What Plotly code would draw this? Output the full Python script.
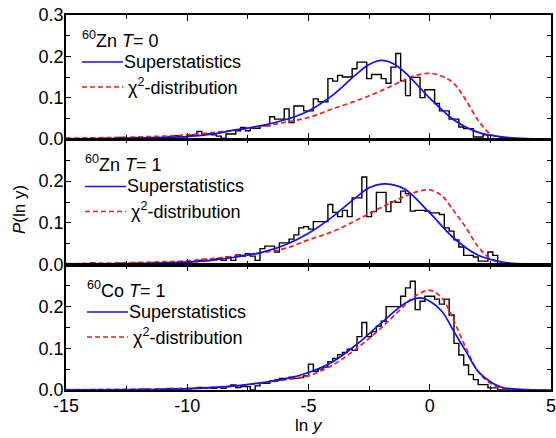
import plotly.graph_objects as go

W, H = 556, 438

# ---------------- data ----------------
BIN_START = -15.0
BIN_WIDTH = 0.2

# histogram heights, one row = 5 bins = one unit of ln y (row label = left edge)
HIST_ZN_T0 = [
    0.001, 0.000, 0.001, 0.000, 0.001,   # -15
    0.001, 0.000, 0.002, 0.001, 0.001,   # -14
    0.002, 0.004, 0.002, 0.002, 0.003,   # -13
    0.002, 0.003, 0.004, 0.003, 0.004,   # -12
    0.004, 0.005, 0.008, 0.006, 0.005,   # -11
    0.008, 0.010, 0.018, 0.012, 0.012,   # -10
    0.010, 0.007, 0.002, 0.012, 0.012,   # -9
    0.020, 0.028, 0.020, 0.026, 0.026,   # -8
    0.032, 0.032, 0.054, 0.048, 0.048,   # -7
    0.073, 0.040, 0.080, 0.080, 0.068,   # -6
    0.068, 0.097, 0.090, 0.090, 0.146,   # -5
    0.140, 0.154, 0.150, 0.150, 0.170,   # -4
    0.186, 0.186, 0.146, 0.156, 0.156,   # -3
    0.146, 0.135, 0.174, 0.207, 0.141,   # -2
    0.105, 0.149, 0.149, 0.100, 0.119,   # -1
    0.119, 0.086, 0.068, 0.068, 0.048,   # 0
    0.048, 0.029, 0.025, 0.025, 0.005,   # 1
    0.005, 0.010, 0.000, 0.000, 0.000,   # 2
    0.000, 0.000,                        # 3
]

HIST_ZN_T1 = [
    0.002, 0.001, 0.002, 0.001, 0.002,   # -15
    0.004, 0.002, 0.001, 0.002, 0.002,   # -14
    0.002, 0.003, 0.002, 0.003, 0.003,   # -13
    0.003, 0.002, 0.003, 0.004, 0.003,   # -12
    0.004, 0.005, 0.004, 0.006, 0.005,   # -11
    0.006, 0.007, 0.010, 0.012, 0.010,   # -10
    0.012, 0.014, 0.010, 0.018, 0.010,   # -9
    0.023, 0.020, 0.026, 0.020, 0.010,   # -8
    0.038, 0.044, 0.044, 0.030, 0.052,   # -7
    0.052, 0.061, 0.071, 0.088, 0.091,   # -6
    0.085, 0.103, 0.103, 0.103, 0.144,   # -5
    0.125, 0.115, 0.130, 0.115, 0.160,   # -4
    0.160, 0.210, 0.115, 0.127, 0.173,   # -3
    0.173, 0.127, 0.151, 0.149, 0.176,   # -2
    0.170, 0.128, 0.130, 0.130, 0.128,   # -1
    0.124, 0.124, 0.120, 0.088, 0.080,   # 0
    0.059, 0.042, 0.022, 0.022, 0.018,   # 1
    0.008, 0.008, 0.030, 0.022, 0.000,   # 2
    0.000, 0.000,                        # 3
]

HIST_CO_T1 = [
    0.000, 0.000, 0.000, 0.000, 0.001,   # -15
    0.000, 0.001, 0.000, 0.000, 0.001,   # -14
    0.001, 0.000, 0.001, 0.001, 0.001,   # -13
    0.001, 0.002, 0.001, 0.001, 0.002,   # -12
    0.002, 0.004, 0.003, 0.002, 0.003,   # -11
    0.003, 0.004, 0.006, 0.004, 0.005,   # -10
    0.004, 0.006, 0.004, 0.008, 0.012,   # -9
    0.006, 0.008, 0.008, 0.000, 0.010,   # -8
    0.016, 0.016, 0.022, 0.024, 0.028,   # -7
    0.028, 0.031, 0.028, 0.030, 0.034,   # -6
    0.062, 0.045, 0.050, 0.055, 0.068,   # -5
    0.076, 0.085, 0.090, 0.098, 0.095,   # -4
    0.128, 0.162, 0.128, 0.140, 0.153,   # -3
    0.165, 0.200, 0.200, 0.200, 0.225,   # -2
    0.245, 0.261, 0.193, 0.213, 0.225,   # -1
    0.225, 0.218, 0.206, 0.218, 0.180,   # 0
    0.112, 0.084, 0.060, 0.037, 0.025,   # 1
    0.013, 0.013, 0.005, 0.005, 0.000,   # 2
    0.000, 0.000,                        # 3
]

# superstatistics (blue) and chi^2 (red) curves
SUPER_X_ZN_T0 = [-15, -12, -10, -9, -8, -7, -6, -5, -4, -3, -2.5, -2, -1.5, -1, 0, 1, 2, 3, 4, 5]
SUPER_Y_ZN_T0 = [0.0005, 0.002, 0.006, 0.012, 0.022, 0.032, 0.046, 0.068, 0.106, 0.158, 0.180, 0.190, 0.182, 0.160, 0.099, 0.046, 0.016, 0.005, 0.001, 0.0]
CHI_X_ZN_T0 = [-15, -12, -10, -8, -7, -6, -5, -4, -3, -2, -1, -0.5, 0, 0.5, 1, 1.5, 2, 2.5, 3, 4, 5]
CHI_Y_ZN_T0 = [0.002, 0.005, 0.010, 0.022, 0.030, 0.040, 0.052, 0.073, 0.093, 0.117, 0.144, 0.155, 0.159, 0.152, 0.134, 0.093, 0.045, 0.012, 0.003, 0.0, 0.0]

SUPER_X_ZN_T1 = [-15, -12, -10, -9, -8, -7, -6, -5, -4, -3, -2.5, -2, -1.5, -1, 0, 1, 2, 3, 4, 5]
SUPER_Y_ZN_T1 = [0.0005, 0.002, 0.006, 0.010, 0.018, 0.028, 0.046, 0.075, 0.115, 0.163, 0.184, 0.193, 0.191, 0.180, 0.124, 0.063, 0.022, 0.006, 0.001, 0.0]
CHI_X_ZN_T1 = [-15, -12, -10, -8, -7, -6, -5, -4, -3, -2, -1, -0.5, 0, 0.5, 1, 1.5, 2, 2.5, 3, 4, 5]
CHI_Y_ZN_T1 = [0.002, 0.005, 0.009, 0.020, 0.028, 0.038, 0.059, 0.079, 0.107, 0.137, 0.164, 0.175, 0.179, 0.165, 0.128, 0.088, 0.042, 0.014, 0.003, 0.0, 0.0]

SUPER_X_CO_T1 = [-15, -12, -10, -9, -8, -7, -6, -5, -4, -3, -2, -1, -0.4, 0, 0.5, 1, 1.5, 2, 2.5, 3, 4, 5]
SUPER_Y_CO_T1 = [0.0, 0.001, 0.003, 0.006, 0.010, 0.017, 0.026, 0.042, 0.068, 0.110, 0.161, 0.209, 0.221, 0.213, 0.189, 0.140, 0.092, 0.044, 0.020, 0.006, 0.001, 0.0]
CHI_X_CO_T1 = [-15, -12, -10, -8, -7, -6, -5, -4, -3, -2, -1, -0.5, 0, 0.5, 1, 1.5, 2, 2.5, 3, 4, 5]
CHI_Y_CO_T1 = [0.001, 0.002, 0.004, 0.010, 0.016, 0.024, 0.034, 0.060, 0.100, 0.149, 0.205, 0.229, 0.239, 0.221, 0.165, 0.100, 0.044, 0.016, 0.004, 0.0, 0.0]

PANEL_NUCLEUS = ["Zn", "Zn", "Co"]
PANEL_MASS = ["60", "60", "60"]
PANEL_T = ["0", "1", "1"]
HISTS = [HIST_ZN_T0, HIST_ZN_T1, HIST_CO_T1]
SUPER_X = [SUPER_X_ZN_T0, SUPER_X_ZN_T1, SUPER_X_CO_T1]
SUPER_Y = [SUPER_Y_ZN_T0, SUPER_Y_ZN_T1, SUPER_Y_CO_T1]
CHI_X = [CHI_X_ZN_T0, CHI_X_ZN_T1, CHI_X_CO_T1]
CHI_Y = [CHI_Y_ZN_T0, CHI_Y_ZN_T1, CHI_Y_CO_T1]

X_TICKS = [-15, -10, -5, 0, 5]
X_TICKTEXT = ["-15", "-10", "-5", "0", "5"]
Y_TICKS = [0.0, 0.1, 0.2, 0.3]
Y_TICKTEXT_TOP = ["0.0", "0.1", "0.2", "0.3"]
Y_TICKTEXT_LOW = ["0.0", "0.1", "0.2", ""]

LEGEND_SUPER = "Superstatistics"
LEGEND_CHI = "χ<sup>2</sup>-distribution"

# ---------------- layout helpers (pixels -> paper) ----------------
FONT = "Liberation Sans, Arial, sans-serif"
PX_LEFT, PX_RIGHT = 66, 551
PANEL_PX = [(15, 139), (139.5, 264.5), (265, 390)]  # (top, bottom)
LEG_X0 = [82, 85, 87]


def fx(px):
    return px / W


def fy(py):
    return 1 - py / H


fig = go.Figure()
layout = dict(
    width=W, height=H,
    margin=dict(l=0, r=0, t=0, b=0),
    paper_bgcolor="white", plot_bgcolor="white",
    showlegend=False,
    font=dict(family=FONT, size=18, color="black"),
)
shapes = []
annotations = []

for i in range(3):
    n = i + 1
    xa = "x" if n == 1 else f"x{n}"
    ya = "y" if n == 1 else f"y{n}"
    vals = HISTS[i]
    edges = [BIN_START + BIN_WIDTH * k for k in range(len(vals) + 1)]
    fig.add_trace(go.Scatter(
        x=edges, y=list(vals) + [vals[-1]], mode="lines", line_shape="hv",
        line=dict(color="black", width=1.4), xaxis=xa, yaxis=ya, hoverinfo="skip"))
    fig.add_trace(go.Scatter(
        x=CHI_X[i], y=CHI_Y[i], mode="lines", line_shape="spline",
        line=dict(color="#ff1a1a", width=1.7, dash="5px,3px"), xaxis=xa, yaxis=ya))
    fig.add_trace(go.Scatter(
        x=SUPER_X[i], y=SUPER_Y[i], mode="lines", line_shape="spline",
        line=dict(color="#1010ff", width=1.7), xaxis=xa, yaxis=ya))

    top, bot = PANEL_PX[i]
    layout["xaxis" if n == 1 else f"xaxis{n}"] = dict(
        domain=[fx(PX_LEFT), fx(PX_RIGHT)], range=[-15, 5], anchor=ya,
        showline=True, linecolor="black", linewidth=1.6, mirror="ticks",
        ticks="inside", ticklen=6, tickwidth=1.3, tickcolor="black",
        tickvals=X_TICKS, ticktext=X_TICKTEXT, showticklabels=(n == 3),
        ticklabeloverflow="allow", ticklabelstandoff=-1,
        tickfont=dict(size=18, family=FONT, color="black"),
        minor=dict(ticks="inside", ticklen=4, tickwidth=1.2, tickcolor="black",
                   tickvals=[-12.5, -7.5, -2.5, 2.5]),
        showgrid=False, zeroline=False, automargin=False, fixedrange=True)
    layout["yaxis" if n == 1 else f"yaxis{n}"] = dict(
        domain=[fy(bot), fy(top)], range=[0, 0.3], anchor=xa,
        showline=True, linecolor="black", linewidth=1.6, mirror="ticks",
        ticks="inside", ticklen=5, tickwidth=1.3, tickcolor="black",
        tickvals=Y_TICKS, ticktext=(Y_TICKTEXT_TOP if n == 1 else Y_TICKTEXT_LOW),
        ticklabeloverflow="allow", ticklabelstandoff=-3,
        tickfont=dict(size=18, family=FONT, color="black"),
        minor=dict(ticks="inside", ticklen=4, tickwidth=1.2, tickcolor="black",
                   tickvals=[0.05, 0.15, 0.25]),
        showgrid=False, zeroline=False, automargin=False, fixedrange=True)

    # panel label and legend samples
    x0 = LEG_X0[i]
    annotations.append(dict(
        xref="paper", yref="paper", x=fx(x0 - 2), y=fy(top + 24), xanchor="left", yanchor="middle",
        text=f"<sup>{PANEL_MASS[i]}</sup>{PANEL_NUCLEUS[i]} <i>T</i>= {PANEL_T[i]}",
        showarrow=False, font=dict(size=18, family=FONT, color="black")))
    shapes.append(dict(type="line", xref="paper", yref="paper",
                       x0=fx(x0), x1=fx(x0 + 41), y0=fy(top + 47), y1=fy(top + 47),
                       line=dict(color="#1010ff", width=1.7)))
    annotations.append(dict(
        xref="paper", yref="paper", x=fx(x0 + 40), y=fy(top + 47), xanchor="left", yanchor="middle",
        text=LEGEND_SUPER, showarrow=False, font=dict(size=18, family=FONT, color="black")))
    shapes.append(dict(type="line", xref="paper", yref="paper",
                       x0=fx(x0), x1=fx(x0 + 41), y0=fy(top + 72), y1=fy(top + 72),
                       line=dict(color="#ff1a1a", width=1.7, dash="5px,3px")))
    annotations.append(dict(
        xref="paper", yref="paper", x=fx(x0 + 44), y=fy(top + 71), xanchor="left", yanchor="middle",
        text=LEGEND_CHI, showarrow=False, font=dict(size=18, family=FONT, color="black")))

annotations.append(dict(
    xref="paper", yref="paper", x=fx(20), y=fy(210), xanchor="center", yanchor="middle",
    text="<i>P</i>(ln y)", textangle=-90, showarrow=False,
    font=dict(size=17, family=FONT, color="black")))
annotations.append(dict(
    xref="paper", yref="paper", x=fx(309), y=fy(425), xanchor="center", yanchor="middle",
    text="ln <i>y</i>", showarrow=False, font=dict(size=17, family=FONT, color="black")))

layout["shapes"] = shapes
layout["annotations"] = annotations
fig.update_layout(**layout)
fig.write_html("out.html")
